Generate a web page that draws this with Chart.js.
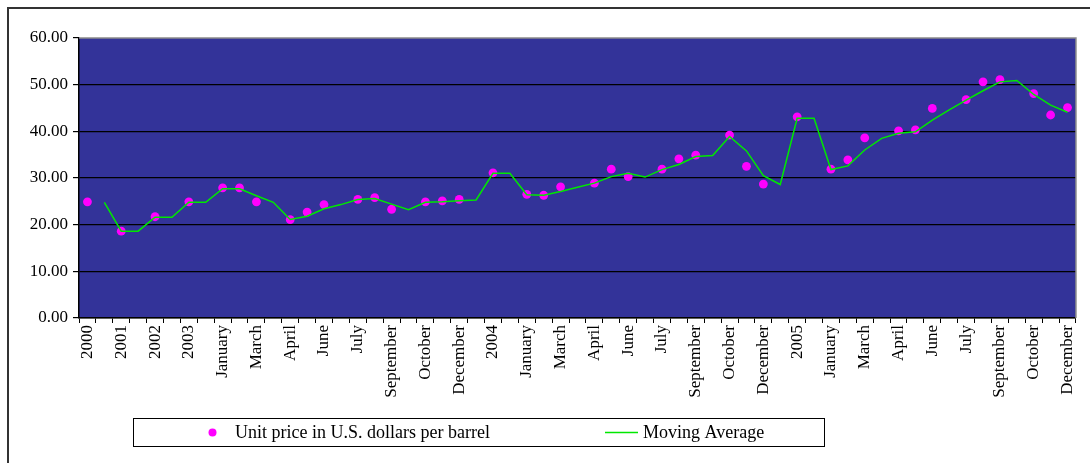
<!DOCTYPE html>
<html>
<head>
<meta charset="utf-8">
<script src="https://cdn.jsdelivr.net/npm/chart.js@4/dist/chart.umd.min.js"></script>
<style>
  html, body { margin: 0; padding: 0; background: #fff; overflow: hidden; }
  #wrap { width: 1090px; height: 463px; position: relative; }
</style>
</head>
<body>
<div id="wrap"><canvas id="c" width="1090" height="463"></canvas></div>
<script>
// Category axis: years followed by their monthly rows (unnamed rows carry no price)
const categories = [
  '2000', '', '2001', '', '2002', '', '2003', '',
  'January', 'February', 'March', '', 'April', 'May', 'June', '',
  'July', 'August', 'September', '', 'October', 'November', 'December', '',
  '2004', '',
  'January', 'February', 'March', '', 'April', 'May', 'June', '',
  'July', 'August', 'September', '', 'October', 'November', 'December', '',
  '2005', '',
  'January', 'February', 'March', '', 'April', 'May', 'June', '',
  'July', 'August', 'September', '', 'October', 'November', 'December'
];

// Unit price in U.S. dollars per barrel
const unitPrice = [
  24.9, null, 18.6, null, 21.7, null, 24.9, null,
  27.9, 27.9, 24.9, null, 21.1, 22.7, 24.3, null,
  25.4, 25.8, 23.3, null, 24.9, 25.1, 25.4, null,
  31.1, null,
  26.5, 26.3, 28.1, null, 28.9, 31.9, 30.3, null,
  31.9, 34.1, 34.9, null, 39.2, 32.5, 28.7, null,
  43.1, null,
  31.9, 33.9, 38.6, null, 40.1, 40.3, 44.9, null,
  46.8, 50.6, 51.1, null, 48.1, 43.5, 45.1
];

// Moving average line
const movingAverage = [
  null, 24.8, 18.6, 18.6, 21.6, 21.6, 24.8, 24.8,
  27.7, 27.7, 26.2, 24.8, 21.1, 21.8, 23.4, 24.3,
  25.4, 25.6, 24.4, 23.2, 24.8, 24.9, 25.1, 25.3,
  31.0, 31.0,
  26.4, 26.3, 27.1, 28.0, 28.9, 30.3, 31.0, 30.2,
  31.8, 32.9, 34.6, 34.8, 38.9, 35.8, 30.5, 28.6,
  42.8, 42.8,
  31.8, 32.6, 36.0, 38.5, 39.6, 39.9, 42.4, 44.6,
  46.7, 48.7, 50.6, 50.9, 47.9, 45.6, 44.1
];

const yTicks = [0, 10, 20, 30, 40, 50, 60];

const FONT = 'Liberation Serif, "Times New Roman", serif';

// Plot background, plot frame, outer frame and the boxed legend
const decor = {
  id: 'decor',
  beforeDraw(chart) {
    const { ctx, chartArea: a } = chart;
    ctx.save();
    ctx.fillStyle = '#333399';
    ctx.fillRect(a.left, a.top, a.right - a.left, a.bottom - a.top);
    ctx.restore();
  },
  beforeDatasetsDraw(chart) {
    const { ctx, chartArea: a } = chart;
    ctx.save();
    ctx.strokeStyle = '#8a8a8a';
    ctx.lineWidth = 1.5;
    ctx.beginPath();
    ctx.moveTo(a.left, a.top);
    ctx.lineTo(a.right, a.top);
    ctx.lineTo(a.right, a.bottom);
    ctx.stroke();
    ctx.restore();
  },
  afterDraw(chart) {
    const { ctx } = chart;
    ctx.save();
    // outer chart frame
    ctx.strokeStyle = '#333';
    ctx.lineWidth = 2;
    ctx.beginPath();
    ctx.moveTo(8, chart.height + 5);
    ctx.lineTo(8, 8);
    ctx.lineTo(chart.width + 5, 8);
    ctx.stroke();

    // legend
    const box = { x: 133.5, y: 418.5, w: 691, h: 28 };
    ctx.strokeStyle = '#000';
    ctx.lineWidth = 1;
    ctx.strokeRect(box.x, box.y, box.w, box.h);
    const cy = box.y + box.h / 2;
    const ds = chart.data.datasets;
    ctx.font = '18px ' + FONT;
    ctx.fillStyle = '#000';
    ctx.textBaseline = 'middle';
    ctx.textAlign = 'left';

    ctx.fillStyle = ds[0].pointBackgroundColor;
    ctx.beginPath();
    ctx.arc(212.5, cy, 4, 0, Math.PI * 2);
    ctx.fill();
    ctx.fillStyle = '#000';
    ctx.fillText(ds[0].label, 235, cy + 1);

    ctx.strokeStyle = ds[1].borderColor;
    ctx.lineWidth = 1.5;
    ctx.beginPath();
    ctx.moveTo(605, cy);
    ctx.lineTo(638, cy);
    ctx.stroke();
    ctx.fillText(ds[1].label, 643, cy + 1);
    ctx.restore();
  }
};

new Chart(document.getElementById('c'), {
  type: 'line',
  data: {
    labels: categories,
    datasets: [
      {
        label: 'Unit price in U.S. dollars per barrel',
        data: unitPrice,
        showLine: false,
        pointRadius: 4.4,
        pointBorderWidth: 0,
        pointBackgroundColor: '#ff00ff',
        pointBorderColor: '#ff00ff',
        order: 2
      },
      {
        label: 'Moving Average',
        data: movingAverage,
        borderColor: '#00e800',
        borderWidth: 1.5,
        pointRadius: 0,
        tension: 0,
        spanGaps: false,
        order: 1
      }
    ]
  },
  options: {
    responsive: false,
    animation: false,
    events: [],
    layout: { padding: { top: 38, right: 10, left: 0, bottom: 0 } },
    plugins: { legend: { display: false }, tooltip: { enabled: false } },
    scales: {
      x: {
        offset: true,
        afterFit(scale) { scale.height = 145; },
        border: { color: '#000', width: 1.5 },
        grid: {
          offset: true,
          drawOnChartArea: false,
          drawTicks: true,
          tickLength: 5,
          tickColor: '#000',
          lineWidth: 1
        },
        ticks: {
          autoSkip: false,
          maxRotation: 90,
          minRotation: 90,
          padding: 2,
          color: '#000',
          font: { family: FONT, size: 17 },
          callback(v, i) { return i % 2 === 0 ? categories[i] : ''; }
        }
      },
      y: {
        min: yTicks[0],
        max: yTicks[yTicks.length - 1],
        afterFit(scale) { scale.width = 79; },
        afterBuildTicks(scale) { scale.ticks = yTicks.map(v => ({ value: v })); },
        border: { color: '#000', width: 1.5 },
        grid: {
          color: ctx => (ctx.tick && ctx.tick.value === 60 ? 'rgba(0,0,0,0)' : '#000'),
          lineWidth: 1.2,
          drawTicks: true,
          tickLength: 6,
          tickColor: '#000'
        },
        ticks: {
          padding: 5,
          color: '#000',
          font: { family: FONT, size: 17 },
          callback: v => Number(v).toFixed(2)
        }
      }
    }
  },
  plugins: [decor]
});
</script>
</body>
</html>
